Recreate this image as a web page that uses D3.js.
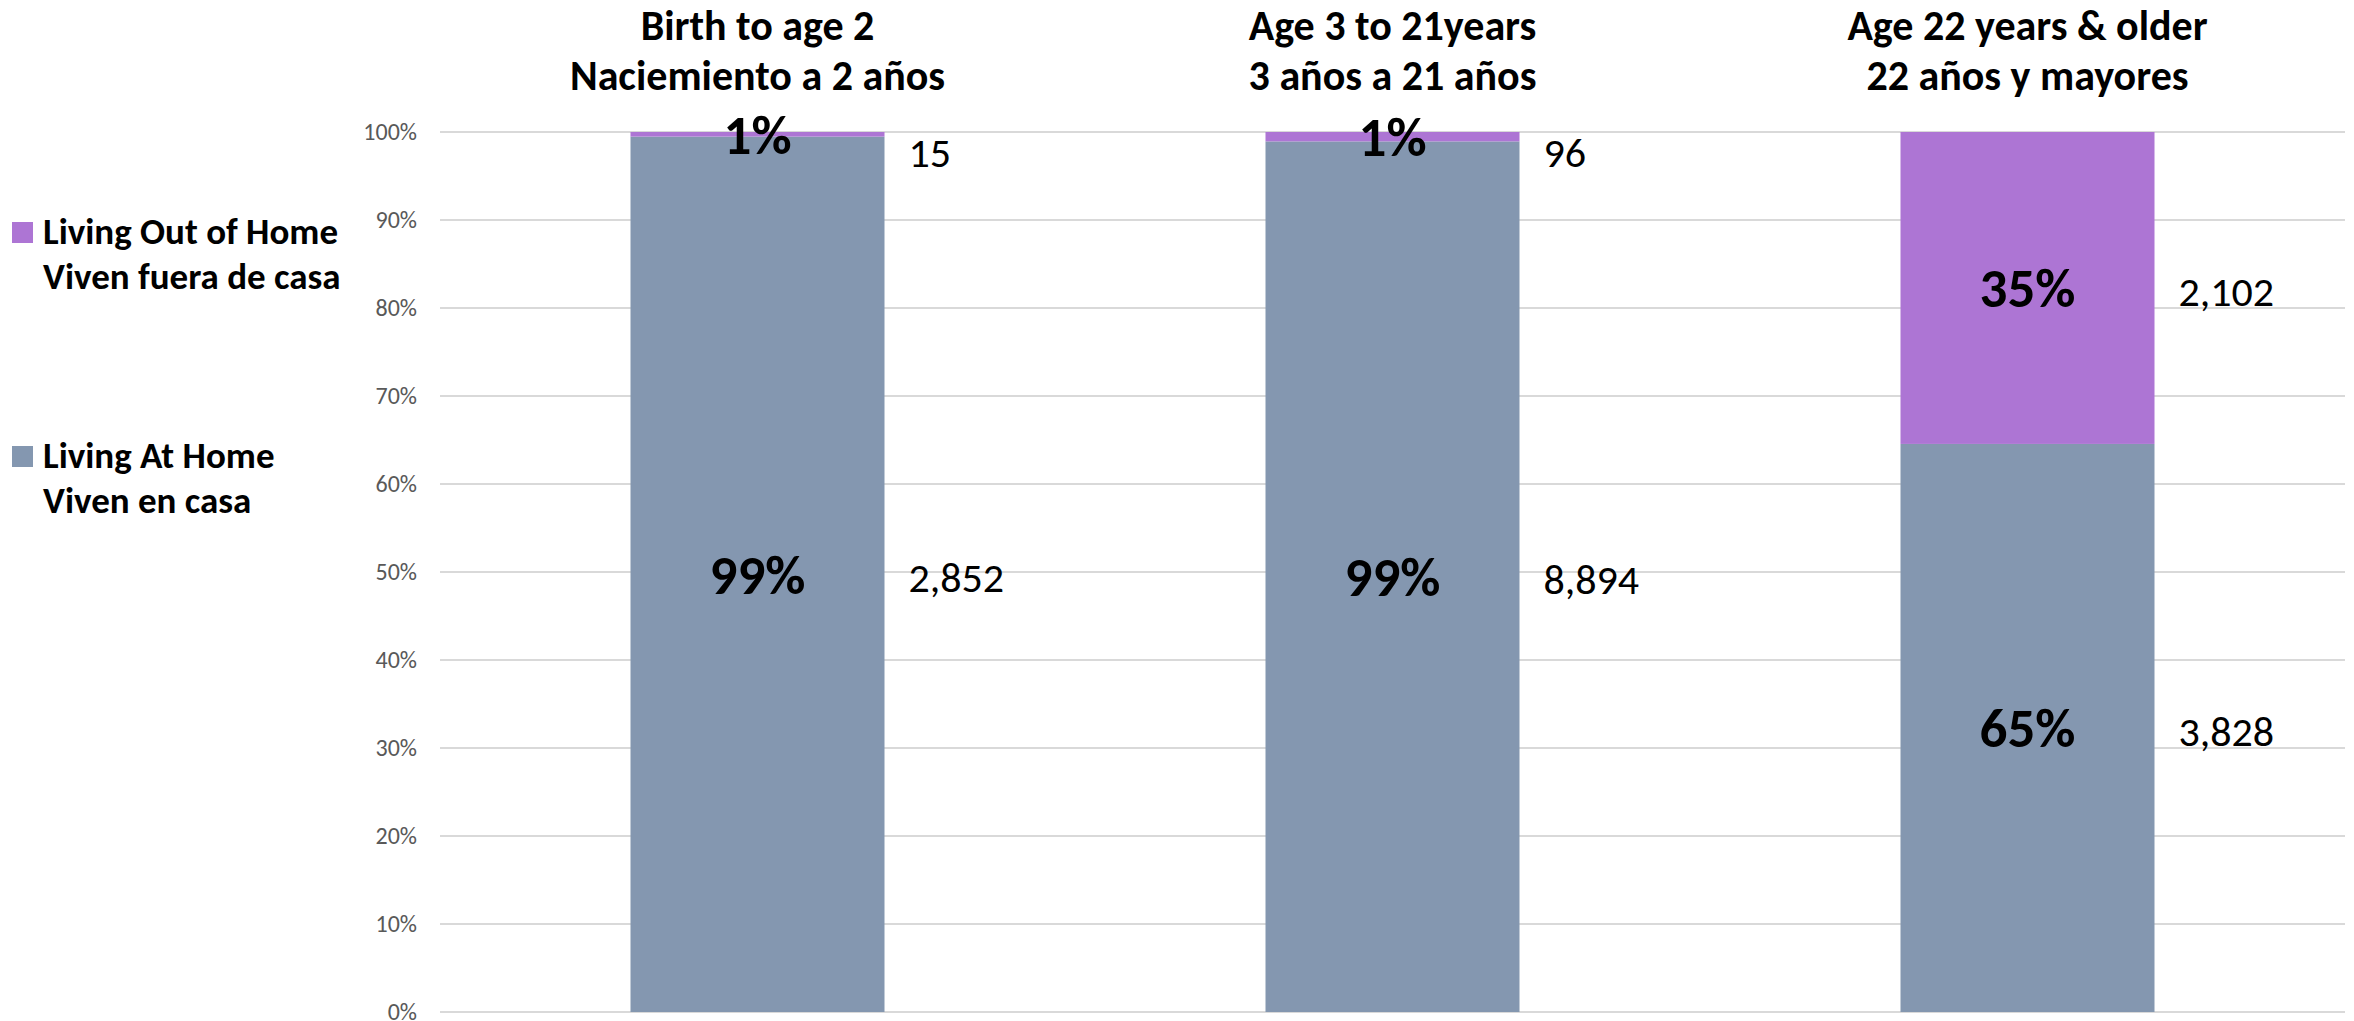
<!DOCTYPE html>
<html><head><meta charset="utf-8">
<script src="https://cdn.jsdelivr.net/npm/d3@7"></script>
<style>
html,body{margin:0;padding:0;background:#fff;}
svg{display:block;font-family:Carlito, Calibri, Lato, "Open Sans", sans-serif;}
</style></head>
<body>
<svg id="chart" width="2354" height="1021"></svg>
<script>
// ---- data ----
const categoriesEn = ["Birth to age 2", "Age 3 to 21years", "Age 22 years & older"];
const categoriesEs = ["Naciemiento a 2 años", "3 años a 21 años", "22 años y mayores"];
const livingAtHome = [2852, 8894, 3828];
const livingOutOfHome = [15, 96, 2102];
const seriesNames = [
  ["Living Out of Home", "Viven fuera de casa"],
  ["Living At Home", "Viven en casa"]
];
const yTicks = [0, 0.1, 0.2, 0.3, 0.4, 0.5, 0.6, 0.7, 0.8, 0.9, 1.0];

const colorHome = "#8497B0";
const colorOut = "#AD75D4";

const svg = d3.select("#chart");
const plot = {left: 440, right: 2345, top: 132, bottom: 1012};

const rows = categoriesEn.map((c, i) => {
  const total = livingAtHome[i] + livingOutOfHome[i];
  return {key: c, es: categoriesEs[i], home: livingAtHome[i], out: livingOutOfHome[i],
          homeP: livingAtHome[i] / total, outP: livingOutOfHome[i] / total};
});

const x = d3.scaleBand().domain(categoriesEn).range([plot.left, plot.right])
  .paddingInner(0.6).paddingOuter(0.3);
const y = d3.scaleLinear().domain([0, 1]).range([plot.bottom, plot.top]);

// gridlines
svg.append("g").selectAll("line").data(yTicks).join("line")
  .attr("x1", plot.left).attr("x2", plot.right)
  .attr("y1", d => y(d)).attr("y2", d => y(d))
  .attr("stroke", "#D9D9D9").attr("stroke-width", 2);

// y axis labels
const yAxis = d3.axisLeft(y).tickValues(yTicks).tickFormat(d3.format(".0%")).tickSize(0).tickPadding(23);
const ya = svg.append("g").attr("transform", `translate(${plot.left},0)`).call(yAxis);
ya.select(".domain").remove();
ya.selectAll("text").attr("fill", "#595959").style("font-size", "24px")
  .style("font-family", "Carlito, Calibri, Lato, sans-serif");

// stacked bars
const stack = d3.stack().keys(["homeP", "outP"])(rows);
const colors = {homeP: colorHome, outP: colorOut};
const bars = svg.append("g");
stack.forEach(layer => {
  bars.append("g").attr("fill", colors[layer.key]).selectAll("rect").data(layer).join("rect")
    .attr("x", d => x(d.data.key)).attr("width", x.bandwidth())
    .attr("y", d => y(d[1])).attr("height", d => y(d[0]) - y(d[1]));
});

// percentage labels
const pct = d3.format(".0%");
stack.forEach(layer => {
  svg.append("g").selectAll("text").data(layer).join("text")
    .attr("x", d => x(d.data.key) + x.bandwidth() / 2)
    .attr("y", d => y((d[0] + d[1]) / 2))
    .attr("dy", "0.35em")
    .attr("text-anchor", "middle")
    .style("font-size", "55px").style("font-weight", "bold").attr("fill", "#000")
    .text(d => pct(d[1] - d[0]));
});

// count labels
const cnt = d3.format(",");
stack.forEach(layer => {
  svg.append("g").selectAll("text").data(layer).join("text")
    .attr("x", d => x(d.data.key) + x.bandwidth() + 24)
    .attr("y", d => Math.max(y((d[0] + d[1]) / 2) + 3, y(1) + 20))
    .attr("dy", "0.35em")
    .style("font-size", "42px").attr("fill", "#000")
    .text(d => cnt(layer.key === "homeP" ? d.data.home : d.data.out));
});

// category headers
const hdr = svg.append("g").selectAll("text").data(rows).join("text")
  .attr("text-anchor", "middle").style("font-size", "42px").style("font-weight", "bold").attr("fill", "#000");
hdr.append("tspan").attr("x", d => x(d.key) + x.bandwidth() / 2).attr("y", 40).text(d => d.key);
hdr.append("tspan").attr("x", d => x(d.key) + x.bandwidth() / 2).attr("y", 90).text(d => d.es);

// legend
const legendColors = [colorOut, colorHome];
const legendTop = [222, 446];
const lg = svg.append("g").selectAll("g").data(seriesNames).join("g")
  .attr("transform", (d, i) => `translate(12,${legendTop[i]})`);
lg.append("rect").attr("width", 21).attr("height", 21).attr("fill", (d, i) => legendColors[i]);
const lt = lg.append("text").style("font-size", "37px").style("font-weight", "bold").attr("fill", "#000");
lt.append("tspan").attr("x", 31).attr("y", 22).text(d => d[0]);
lt.append("tspan").attr("x", 31).attr("y", 67).text(d => d[1]);
</script>
</body></html>
